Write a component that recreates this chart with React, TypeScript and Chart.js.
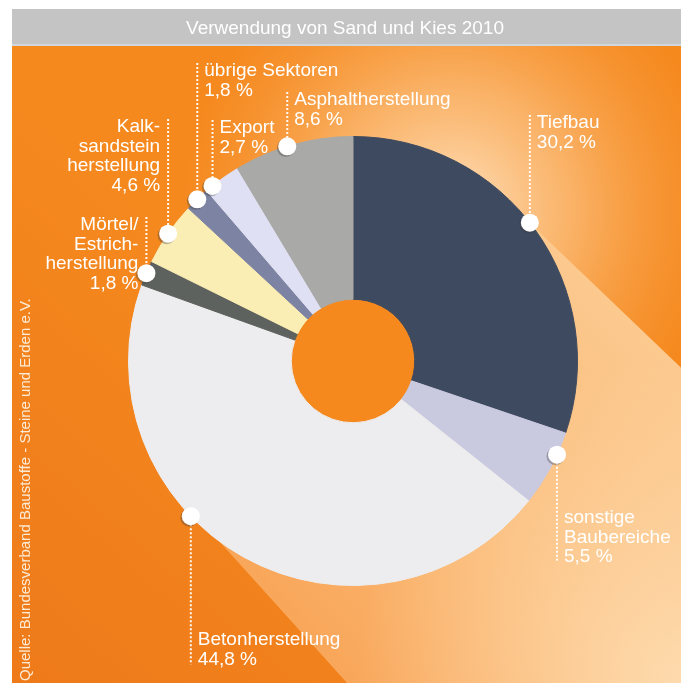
import { useEffect, useRef } from "react";
import { Chart, registerables } from "chart.js";

Chart.register(...registerables);

const TITLE = "Verwendung von Sand und Kies 2010";
const SOURCE = "Quelle: Bundesverband Baustoffe - Steine und Erden e.V.";

const categories = [
  "Tiefbau",
  "sonstige Baubereiche",
  "Betonherstellung",
  "Mörtel/Estrichherstellung",
  "Kalksandsteinherstellung",
  "übrige Sektoren",
  "Export",
  "Asphaltherstellung",
];

const labelLines = [
  ["Tiefbau"],
  ["sonstige", "Baubereiche"],
  ["Betonherstellung"],
  ["Mörtel/", "Estrich-", "herstellung"],
  ["Kalk-", "sandstein", "herstellung"],
  ["übrige Sektoren"],
  ["Export"],
  ["Asphaltherstellung"],
];

const shares = [30.2, 5.5, 44.8, 1.8, 4.6, 1.8, 2.7, 8.6];

const sliceColors = [
  "#3e4a5f",
  "#c9c9e0",
  "#ededef",
  "#5d625e",
  "#fbeeb5",
  "#7d83a3",
  "#dfe0f3",
  "#a9a9a8",
];

// callout layout (style only): where on the arc the dot sits, label direction/side, first baseline (canvas px)
const callouts = [
  { frac: 0.478, dir: "up", side: "right", baseline: 119 },
  { frac: 0.3, dir: "down", side: "right", baseline: 514 },
  { frac: 0.606, dir: "down", side: "right", baseline: 636 },
  { frac: 0.5, dir: "up", side: "left", baseline: 221 },
  { frac: 0.5, dir: "up", side: "left", baseline: 123 },
  { frac: 0.5, dir: "up", side: "right", baseline: 67 },
  { frac: 0.2, dir: "up", side: "right", baseline: 124 },
  { frac: 0.45, dir: "up", side: "right", baseline: 96 },
];

const LABEL_FONT = "19px 'Liberation Sans', Arial, sans-serif";
const LINE_H = 19.5;
const BASE_ORANGE = "#f5891e";

const fmt = (v: number) => v.toFixed(1).replace(".", ",") + " %";

const decor = {
  id: "decor",
  beforeDraw(chart: any) {
    const { ctx, width, height } = chart;
    const arc0 = chart.getDatasetMeta(0).data[0];
    const cx = arc0 ? arc0.x : 341;
    const cy = arc0 ? arc0.y : 352;
    const inner = arc0 ? arc0.innerRadius : 62;

    ctx.save();
    ctx.fillStyle = BASE_ORANGE;
    ctx.fillRect(0, 0, width, height);
    // slightly darker lower-left
    let g = ctx.createLinearGradient(0, height, 300, 330);
    g.addColorStop(0, "rgba(238,122,26,1)");
    g.addColorStop(1, "rgba(238,122,26,0)");
    ctx.fillStyle = g;
    ctx.fillRect(0, 0, width, height);
    // soft glow around the upper right of the ring
    const rg = ctx.createRadialGradient(440, 200, 0, 440, 200, 270);
    rg.addColorStop(0, "rgba(255,230,200,0.95)");
    rg.addColorStop(0.45, "rgba(253,205,150,0.6)");
    rg.addColorStop(1, "rgba(250,170,90,0)");
    ctx.fillStyle = rg;
    ctx.fillRect(0, 0, width, height);
    ctx.restore();

    // light cone towards lower right
    ctx.save();
    ctx.beginPath();
    ctx.moveTo(cx, cy);
    ctx.lineTo(523, 219);
    ctx.lineTo(800, 484);
    ctx.lineTo(800, 1189);
    ctx.lineTo(160, 480);
    ctx.closePath();
    ctx.clip();
    g = ctx.createLinearGradient(250, 650, 640, 280);
    g.addColorStop(0, "#f8a253");
    g.addColorStop(0.5, "#fbbb78");
    g.addColorStop(1, "#fccb92");
    ctx.fillStyle = g;
    ctx.fillRect(0, 0, width, height);
    const rb = ctx.createRadialGradient(width, height, 0, width, height, 330);
    rb.addColorStop(0, "rgba(254,220,176,0.95)");
    rb.addColorStop(1, "rgba(254,220,176,0)");
    ctx.fillStyle = rb;
    ctx.fillRect(0, 0, width, height);
    ctx.restore();

    // hole shows plain orange
    ctx.save();
    ctx.fillStyle = BASE_ORANGE;
    ctx.beginPath();
    ctx.arc(cx, cy, inner + 1, 0, Math.PI * 2);
    ctx.fill();
    ctx.restore();

    // title bar
    ctx.save();
    ctx.fillStyle = "#c4c4c4";
    ctx.fillRect(0, 0, width, 35);
    ctx.fillStyle = "#cfd6dc";
    ctx.fillRect(0, 35, width, 2);
    ctx.fillStyle = "#ffffff";
    ctx.font = LABEL_FONT;
    ctx.textAlign = "center";
    ctx.textBaseline = "alphabetic";
    ctx.fillText(TITLE, 333, 25);
    ctx.restore();
  },
  afterDatasetsDraw(chart: any) {
    const { ctx } = chart;
    const meta = chart.getDatasetMeta(0);
    const labels = chart.data.labels;
    const values = chart.data.datasets[0].data;
    meta.data.forEach((arc: any, i: number) => {
      const c = callouts[i];
      const { x, y, startAngle, endAngle, outerRadius } = arc.getProps(
        ["x", "y", "startAngle", "endAngle", "outerRadius"],
        true
      );
      const a = startAngle + c.frac * (endAngle - startAngle);
      const dx = x + outerRadius * Math.cos(a);
      const dy = y + outerRadius * Math.sin(a);
      const lines = [...labels[i], fmt(values[i])];
      const lastBaseline = c.baseline + (lines.length - 1) * LINE_H;

      // leader line
      ctx.save();
      ctx.strokeStyle = "rgba(255,255,255,0.95)";
      ctx.lineWidth = 2;
      ctx.setLineDash([2, 2]);
      ctx.beginPath();
      if (c.dir === "up") {
        ctx.moveTo(dx, c.baseline - 13);
        ctx.lineTo(dx, dy);
      } else {
        ctx.moveTo(dx, dy);
        ctx.lineTo(dx, lastBaseline);
      }
      ctx.stroke();
      ctx.restore();

      // dot
      ctx.save();
      ctx.fillStyle = "rgba(60,60,60,0.35)";
      ctx.beginPath();
      ctx.arc(dx - 1.5, dy + 1.5, 9, 0, Math.PI * 2);
      ctx.fill();
      ctx.fillStyle = "#ffffff";
      ctx.beginPath();
      ctx.arc(dx, dy, 9, 0, Math.PI * 2);
      ctx.fill();
      ctx.restore();

      // text
      ctx.save();
      ctx.fillStyle = "#ffffff";
      ctx.font = LABEL_FONT;
      ctx.textBaseline = "alphabetic";
      ctx.textAlign = c.side === "right" ? "left" : "right";
      const tx = c.side === "right" ? dx + 7 : dx - 8;
      lines.forEach((t: string, k: number) => {
        ctx.fillText(t, tx, c.baseline + k * LINE_H);
      });
      ctx.restore();
    });
  },
  afterDraw(chart: any) {
    const { ctx } = chart;
    ctx.save();
    ctx.translate(18, 672);
    ctx.rotate(-Math.PI / 2);
    ctx.fillStyle = "#fdebd5";
    ctx.font = "15px 'Liberation Sans', Arial, sans-serif";
    ctx.textAlign = "left";
    ctx.textBaseline = "alphabetic";
    ctx.fillText(SOURCE, 0, 0);
    ctx.restore();
  },
};

export default function App() {
  const ref = useRef<HTMLCanvasElement>(null);
  useEffect(() => {
    const chart = new Chart(ref.current as HTMLCanvasElement, {
      type: "doughnut",
      data: {
        labels: labelLines,
        datasets: [
          {
            label: "Anteil",
            data: shares,
            backgroundColor: sliceColors,
            borderColor: sliceColors,
            borderWidth: 1,
            hoverOffset: 0,
          },
        ],
      },
      options: {
        responsive: false,
        animation: false,
        cutout: "27.5%",
        rotation: 0,
        layout: { padding: { left: 116, right: 107, top: 127, bottom: 97 } },
        plugins: {
          legend: { display: false },
          tooltip: { enabled: false },
          title: { display: false },
        },
      },
      plugins: [decor],
    });
    return () => chart.destroy();
  }, []);
  return (
    <div style={{ paddingLeft: 4, paddingTop: 1 }}>
      <canvas
        ref={ref}
        width={673}
        height={674}
        style={{ display: "block", width: 673, height: 674 }}
        aria-label={categories.join(", ")}
      />
    </div>
  );
}
